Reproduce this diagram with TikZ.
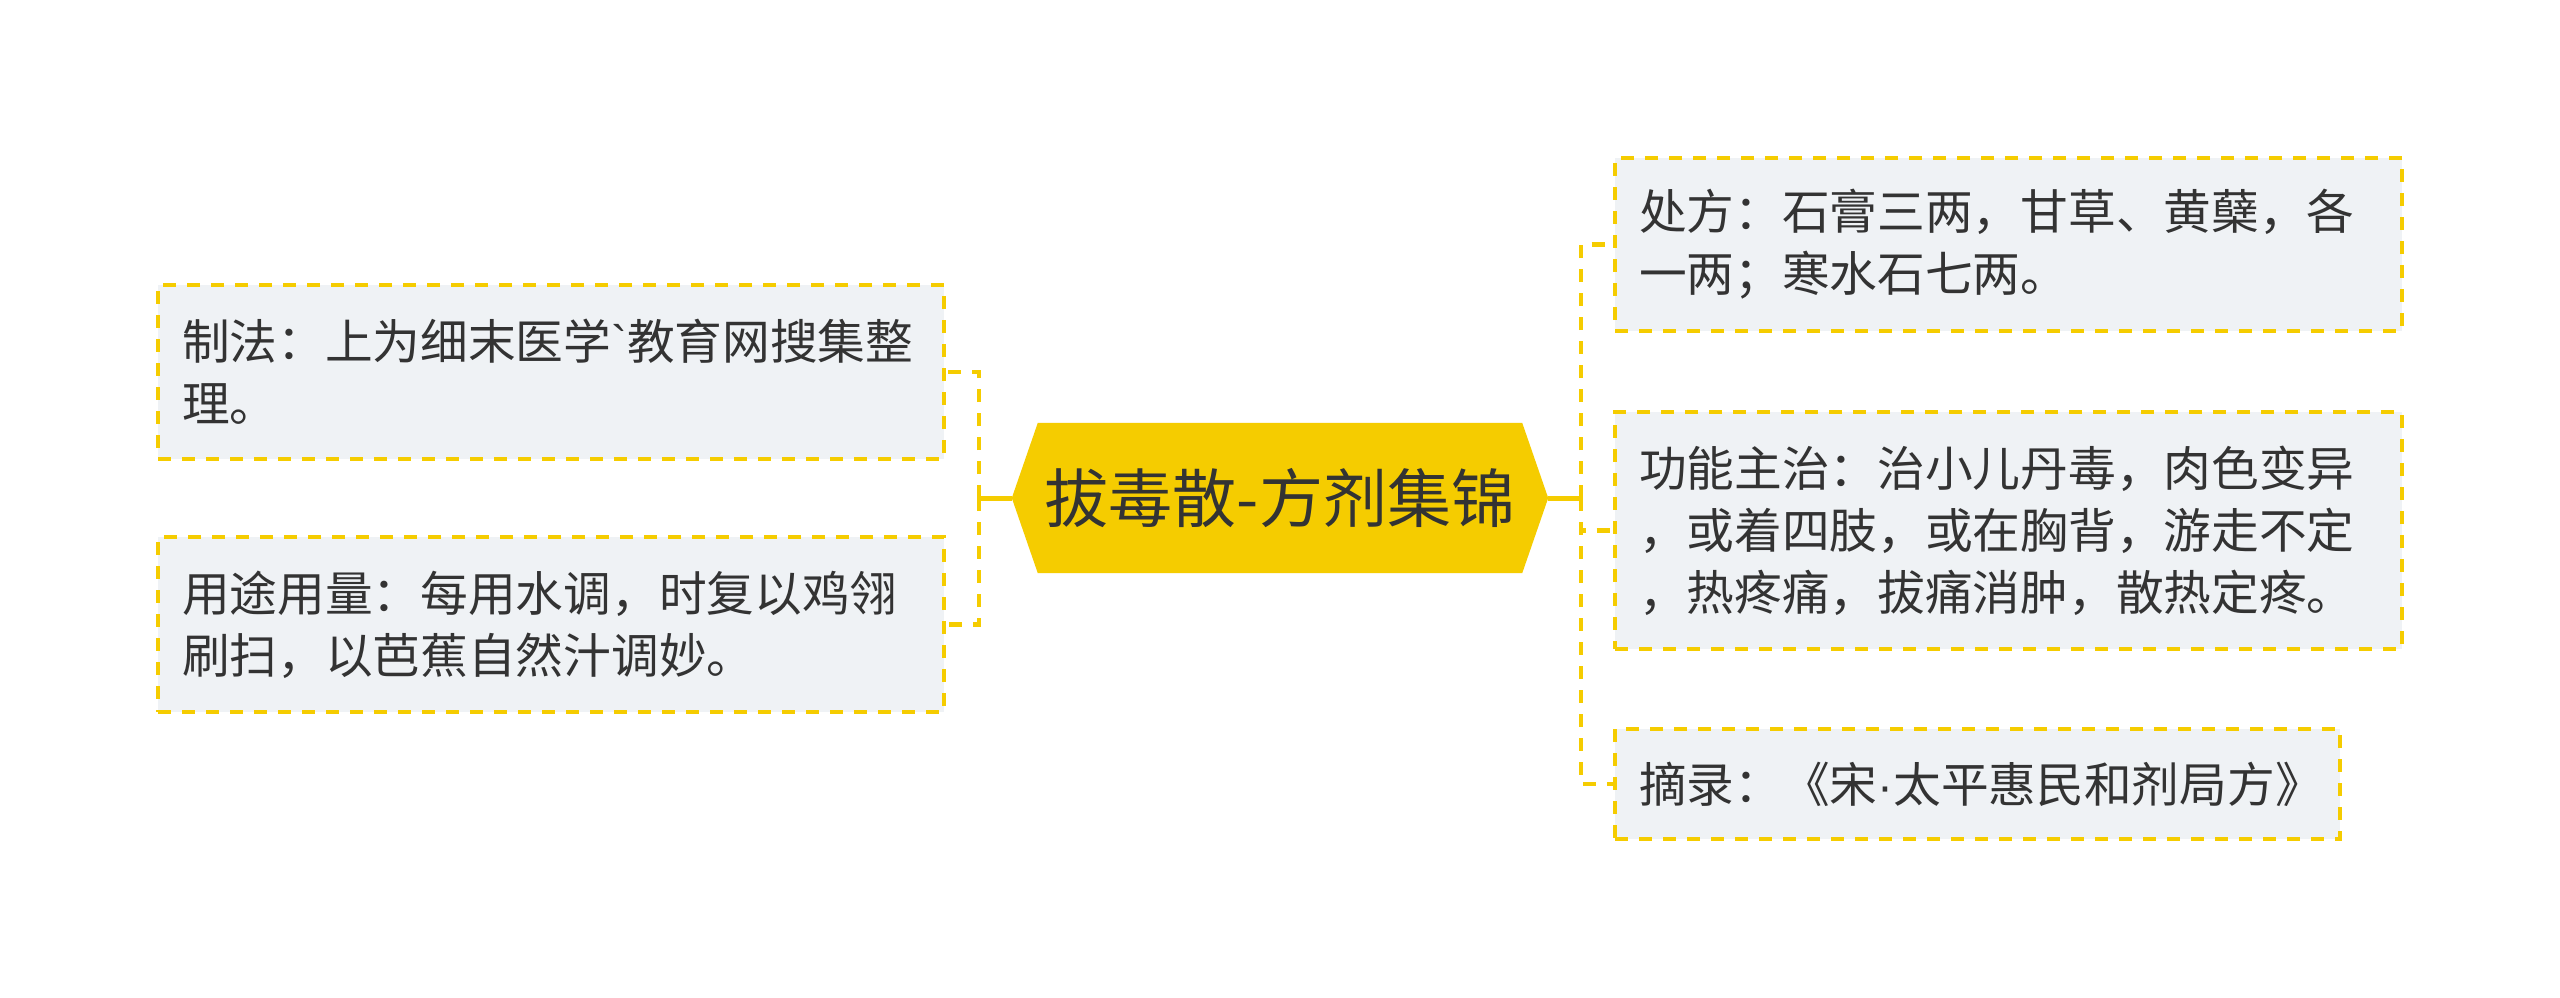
\documentclass[tikz,border=0pt]{standalone}
\usepackage{fontspec}
\newfontfamily\cjk{Noto Sans CJK SC}
\newfontfamily\latinf{Liberation Sans}
\usetikzlibrary{backgrounds}
\definecolor{mmyellow}{RGB}{245,204,0}
\definecolor{boxfill}{RGB}{239,242,245}
\definecolor{txt}{RGB}{51,51,51}
\begin{document}
\begin{tikzpicture}[x=1pt,y=-1pt,
  leaf/.style={draw=mmyellow, line width=3.5pt, dash pattern=on 13pt off 11pt,
    fill=boxfill, text=txt, font=\cjk\fontsize{47.7}{62}\selectfont,
    align=left, inner xsep=24pt, inner ysep=0pt, anchor=center},
  conn/.style={draw=mmyellow, line width=4.5pt, dash pattern=on 13pt off 11pt},
  trunk/.style={draw=mmyellow, line width=5pt},
  hexlabel/.style={text=txt, font=\cjk\fontsize{64}{76}\selectfont,
    minimum width=536pt, minimum height=150pt, inner sep=0pt, anchor=center}]
\useasboundingbox (0,0) rectangle (2560,997);
\begin{scope}[on background layer]
  \fill[white] (0,0) rectangle (2560,997);
\end{scope}

% central topic
\node[hexlabel] (hx) at (1280,498) {拔毒散-方剂集锦};
\begin{scope}[on background layer]
  \fill[mmyellow] (hx.west) -- ([xshift=26pt]hx.north west) -- ([xshift=-26pt]hx.north east)
    -- (hx.east) -- ([xshift=-26pt]hx.south east) -- ([xshift=26pt]hx.south west) -- cycle;
\end{scope}

% left branches
\node[leaf, minimum width=786pt, minimum height=174pt, text width=738pt] (L1) at (551,372)
  {制法：上为细末医学{\latinf\symbol{96}}教育网搜集整\\理。};
\node[leaf, minimum width=786pt, minimum height=175pt, text width=738pt] (L2) at (551,624.5)
  {用途用量：每用水调，时复以鸡翎\\刷扫，以芭蕉自然汁调妙。};

% right branches
\node[leaf, minimum width=787pt, minimum height=173pt, text width=739pt] (R1) at (2008.5,244.5)
  {处方：石膏三两，甘草、黄蘖，各\\一两；寒水石七两。};
\node[leaf, minimum width=787pt, minimum height=237pt, text width=739pt] (R2) at (2008.5,530.5)
  {功能主治：治小儿丹毒，肉色变异\\，或着四肢，或在胸背，游走不定\\，热疼痛，拔痛消肿，散热定疼。};
\node[leaf, minimum width=725pt, minimum height=110pt, text width=677pt] (R3) at (1977.5,784)
  {摘录：《宋{\latinf ·}太平惠民和剂局方》};

% connectors
\coordinate (lj) at (979,498);
\coordinate (rj) at (1581,498);
\draw[trunk] (hx.west) -- (lj);
\draw[trunk] (hx.east) -- (rj);
\draw[conn] (lj) |- (L1.east);
\draw[conn] (lj) |- (L2.east);
\draw[conn] (rj) |- (R1.west);
\draw[conn] (rj) |- (R2.west);
\draw[conn] (rj) |- (R3.west);
\end{tikzpicture}
\end{document}
